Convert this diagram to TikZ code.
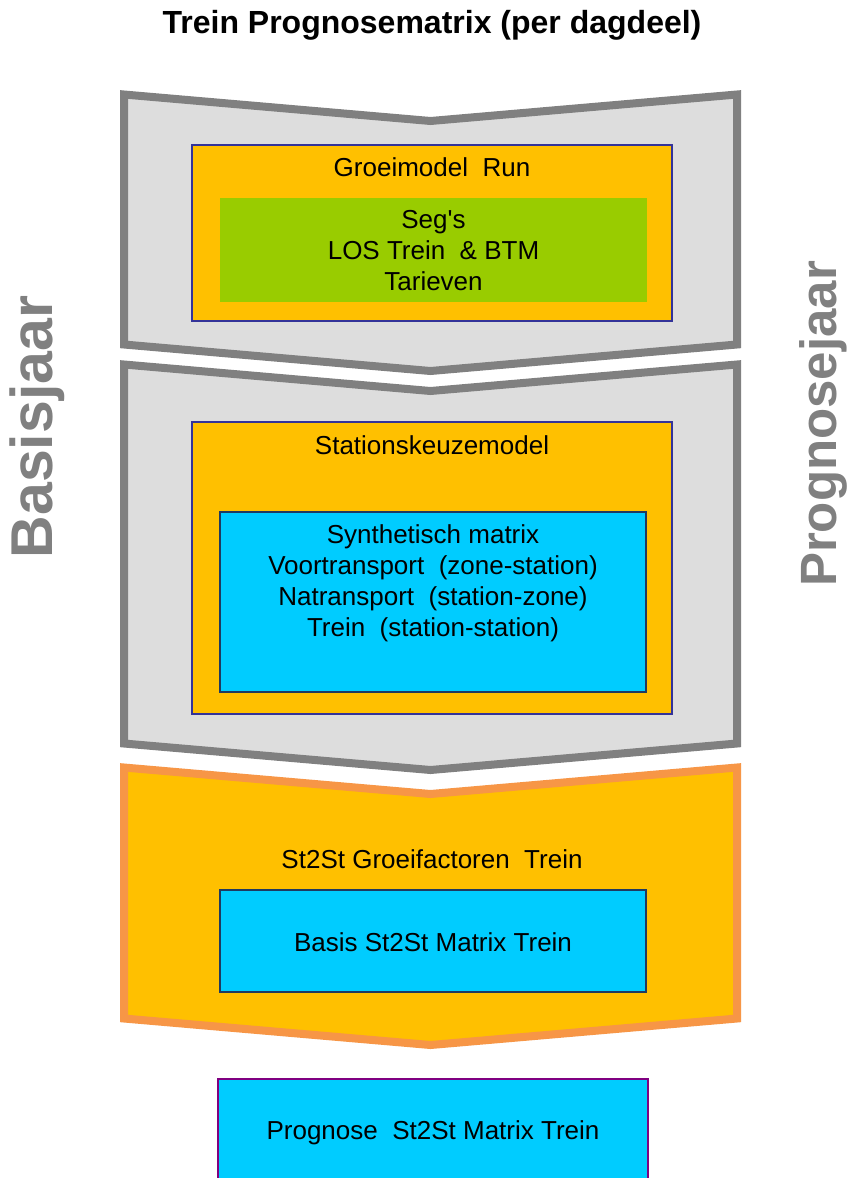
\documentclass[tikz,border=0pt]{standalone}
\usepackage{fontspec}
\setmainfont{Liberation Sans}[Ligatures=TeXOff]
\definecolor{chevfill}{HTML}{DDDDDD}
\definecolor{chevline}{HTML}{808080}
\definecolor{orangefill}{HTML}{FFC000}
\definecolor{orangeline}{HTML}{F79646}
\definecolor{boxline}{HTML}{333399}
\definecolor{greenfill}{HTML}{99CC00}
\definecolor{bluefill}{HTML}{00CCFF}
\definecolor{blueline}{HTML}{1F3A60}
\definecolor{purpleline}{HTML}{800080}
\definecolor{sidegray}{HTML}{808080}
\tikzset{
  chevgray/.style={fill=chevfill, draw=chevline, line width=8pt, line join=miter},
  chevorange/.style={fill=orangefill, draw=orangeline, line width=8pt, line join=miter},
  orangebox/.style={rectangle, fill=orangefill, draw=boxline, line width=1.5pt, inner sep=0pt},
  greenbox/.style={rectangle, fill=greenfill, draw=none, inner sep=0pt},
  bluebox/.style={rectangle, fill=bluefill, draw=blueline, line width=1.5pt, inner sep=0pt},
  progbox/.style={rectangle, fill=bluefill, draw=purpleline, line width=1.5pt, inner sep=0pt},
  bodytext/.style={font=\fontsize{26}{31}\selectfont, align=center, inner sep=0pt},
  sidetext/.style={text=sidegray, rotate=90, inner sep=0pt},
}
\begin{document}
\begin{tikzpicture}[x=1pt,y=-1pt]
\useasboundingbox (0,0) rectangle (852,1178);
\clip (0,0) rectangle (852,1178);
\fill[white] (0,0) rectangle (852,1178);

% title
\node[font=\fontsize{32}{36}\selectfont\bfseries, inner sep=0pt] (title) at (432,25) {Trein Prognosematrix (per dagdeel)};

% side labels
\node[sidetext, font=\fontsize{59}{66}\selectfont\bfseries] (basisjaar) at (37,427) {Basisjaar};
\node[sidetext, font=\fontsize{51}{58}\selectfont\bfseries] (prognosejaar) at (823,424) {Prognosejaar};

% chevrons
\draw[chevgray] (124,94.5) -- (430.5,121) -- (737,94.5) -- (737,344.5) -- (430.5,371) -- (124,344.5) -- cycle;
\draw[chevgray] (124,364.5) -- (430.5,391) -- (737,364.5) -- (737,743.5) -- (430.5,770) -- (124,743.5) -- cycle;
\draw[chevorange] (124,767.5) -- (430.5,794) -- (737,767.5) -- (737,1018.5) -- (430.5,1045) -- (124,1018.5) -- cycle;

% chevron 1
\node[orangebox, minimum width=480pt, minimum height=176pt] (groei) at (432,233) {};
\node[bodytext] (groeitext) at (432,167) {Groeimodel\ \ Run};
\node[greenbox, minimum width=427pt, minimum height=104pt] (green) at (433.5,250) {};
\node[bodytext] (greentext) at (433.5,251) {Seg's\\LOS Trein\ \ \&\ BTM\\Tarieven};

% chevron 2
\node[orangebox, minimum width=480pt, minimum height=292pt] (stations) at (432,568) {};
\node[bodytext] (stationstext) at (432,445) {Stationskeuzemodel};
\node[bluebox, minimum width=426pt, minimum height=180pt] (synth) at (433,602) {};
\node[bodytext] (synthtext) at (433,583) {Synthetisch matrix\\Voortransport\ \ (zone-station)\\Natransport\ \ (station-zone)\\Trein\ \ (station-station)};

% chevron 3
\node[bodytext] (groeifact) at (432,859) {St2St Groeifactoren\ \ Trein};
\node[bluebox, minimum width=426pt, minimum height=102pt] (basis) at (433,941) {};
\node[bodytext] (basistext) at (433,942) {Basis St2St Matrix Trein};

% prognose
\node[progbox, minimum width=430pt, minimum height=130pt] (prognose) at (433,1144) {};
\node[bodytext] (prognosetext) at (433,1133) {Prognose\ \ St2St Matrix\ Trein};
\end{tikzpicture}
\end{document}
